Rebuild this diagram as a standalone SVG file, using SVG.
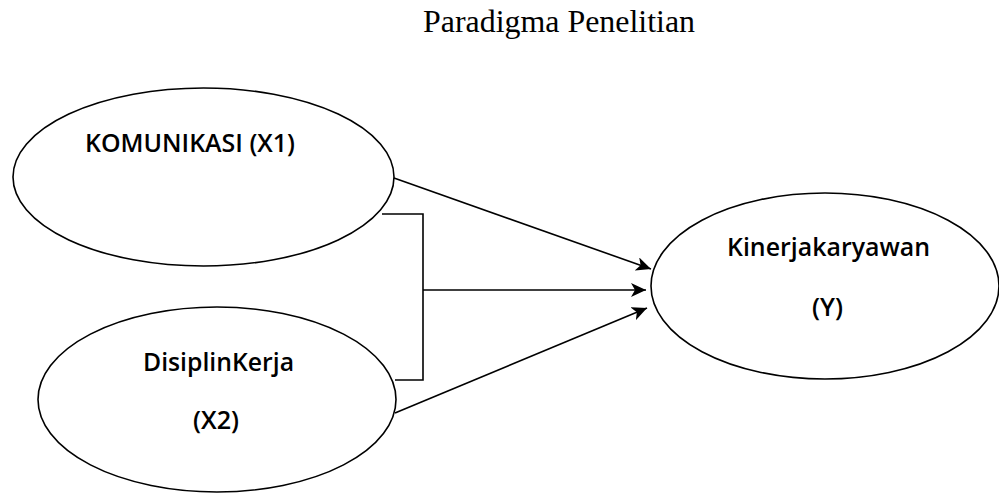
<svg xmlns="http://www.w3.org/2000/svg" width="999" height="493" viewBox="0 0 999 493">
<style>
.node{fill:#fff;stroke:#000;stroke-width:1.6}
.lbl{font-family:"Open Sans","Noto Sans",sans-serif;font-size:26px;font-weight:600;fill:#000}
.title{font-family:"Liberation Serif","Times New Roman",serif;font-size:31px;fill:#000}
.conn{fill:none;stroke:#000;stroke-width:1.6}
</style>
<defs>
<marker id="arr" markerUnits="userSpaceOnUse" markerWidth="16" markerHeight="14" refX="15" refY="7" orient="auto">
<path d="M0,0 L15,7 L0,14 L4,7 z" fill="#000"/>
</marker>
</defs>
<rect width="999" height="493" fill="#fff"/>
<text class="title" x="423" y="32" textLength="272" lengthAdjust="spacingAndGlyphs">Paradigma Penelitian</text>
<g id="x1">
<ellipse class="node" cx="203.5" cy="177" rx="190.5" ry="89"/>
<text class="lbl" x="85" y="152" textLength="210" lengthAdjust="spacingAndGlyphs">KOMUNIKASI (X1)</text>
</g>
<g id="x2">
<ellipse class="node" cx="217" cy="399.5" rx="179" ry="92.5"/>
<text class="lbl" x="143" y="371" textLength="151" lengthAdjust="spacingAndGlyphs">DisiplinKerja</text>
<text class="lbl" x="193" y="429" textLength="46" lengthAdjust="spacingAndGlyphs">(X2)</text>
</g>
<g id="y">
<ellipse class="node" cx="825" cy="286" rx="174" ry="93"/>
<text class="lbl" x="727" y="256" textLength="203" lengthAdjust="spacingAndGlyphs">Kinerjakaryawan</text>
<text class="lbl" x="812" y="316" textLength="31" lengthAdjust="spacingAndGlyphs">(Y)</text>
</g>
<g id="connectors">
<path class="conn" d="M394,178 L651,269" marker-end="url(#arr)"/>
<path class="conn" d="M382,214 H423 V380 H395"/>
<path class="conn" d="M423,290 H646" marker-end="url(#arr)"/>
<path class="conn" d="M395,413 L647,308" marker-end="url(#arr)"/>
</g>
</svg>
